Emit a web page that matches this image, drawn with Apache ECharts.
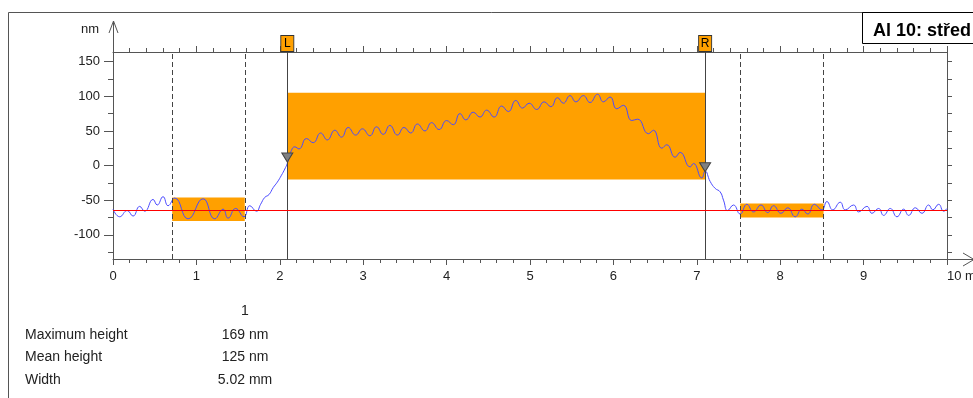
<!DOCTYPE html>
<html>
<head>
<meta charset="utf-8">
<script src="https://cdn.jsdelivr.net/npm/echarts@6.0.0/dist/echarts.min.js"></script>
<style>
  html, body { margin: 0; padding: 0; background: #fff; }
  #chart { width: 973px; height: 398px; }
</style>
</head>
<body>
<div id="chart"></div>
<script>
// profile: position (mm) and height (nm)
var posMm = [0.00,0.08,0.17,0.24,0.32,0.38,0.48,0.53,0.60,0.66,0.74,0.90,1.08,1.22,1.32,1.38,1.47,1.57,1.64,1.72,
  1.77,1.82,1.87,1.92,1.97,2.02,2.06,2.09,2.14,2.18,2.23,2.32,2.40,2.49,2.57,2.66,2.74,2.82,2.91,2.99,
  3.08,3.16,3.24,3.32,3.41,3.49,3.57,3.65,3.74,3.82,3.91,4.00,4.08,4.16,4.23,4.32,4.40,4.48,4.57,4.66,
  4.74,4.83,4.91,4.99,5.08,5.17,5.25,5.33,5.40,5.48,5.55,5.64,5.72,5.81,5.88,5.96,6.04,6.12,6.22,6.29,
  6.42,6.48,6.58,6.64,6.74,6.80,6.92,6.96,7.06,7.10,7.16,7.22,7.28,7.32,7.37,7.44,7.52,7.60,7.68,7.77,
  7.85,7.92,8.01,8.09,8.18,8.26,8.33,8.41,8.50,8.56,8.63,8.72,8.78,8.88,8.94,9.04,9.10,9.18,9.24,9.32,
  9.40,9.48,9.54,9.62,9.70,9.78,9.83,9.90,9.96,10.00];
var heightNm = [-63,-74,-65,-73,-59,-66,-49,-57,-45,-58,-47,-77,-48,-77,-63,-76,-62,-74,-58,-66,
  -56,-46,-42,-32,-24,-14,-5,3,22,27,24,39,33,47,37,51,41,55,44,53,
  43,56,45,58,44,55,47,60,50,62,52,65,59,75,66,77,70,80,70,86,
  78,94,83,90,81,92,85,98,90,101,92,101,91,103,92,99,82,87,65,67,
  46,51,25,30,12,19,-2,3,-18,-8,-23,-33,-38,-50,-65,-57,-70,-56,-67,-57,
  -68,-58,-69,-61,-74,-63,-70,-56,-64,-52,-64,-53,-64,-57,-67,-59,-69,-62,-72,-62,
  -74,-63,-72,-61,-69,-57,-64,-56,-66,-62];

var xRange = [0, 10];
var yRange = [-135, 164];
var yMajor = [-100, -50, 0, 50, 100, 150];
var yMinor = [-125, -75, -25, 25, 75, 125];
var yAllTicks = [-125, -100, -75, -50, -25, 0, 25, 50, 75, 100, 125, 150];

var leftRef = [0.71, 1.58];
var leftBox = [-80, -46];
var rightRef = [7.52, 8.52];
var rightBox = [-75, -55];
var stepEdges = [2.09, 7.10];
var stepBox = [-20, 105];
var baseLevel = -64;
var cursorHeights = [5, -9];
var cursorNames = ['L', 'R'];

var titleText = 'Al 10: střed';
var tableHeader = '1';
var tableLabels = ['Maximum height', 'Mean height', 'Width'];
var tableValues = ['169 nm', '125 nm', '5.02 mm'];

var profile = posMm.map(function (x, i) { return [x, heightNm[i]]; });

var axisColor = '#555';
var orange = '#ffa000';
var font = 'Liberation Sans, Arial, sans-serif';

var dashed = { color: '#444', width: 1, type: [5, 3] };
var solid = { color: '#444', width: 1, type: 'solid' };

var markLines = [
  { xAxis: leftRef[0], lineStyle: dashed },
  { xAxis: leftRef[1], lineStyle: dashed },
  { xAxis: rightRef[0], lineStyle: dashed },
  { xAxis: rightRef[1], lineStyle: dashed },
  { xAxis: stepEdges[0], lineStyle: solid },
  { xAxis: stepEdges[1], lineStyle: solid },
  { yAxis: baseLevel, lineStyle: { color: '#ff0000', width: 1, type: 'solid' } }
];

var markAreas = [
  [{ coord: [leftRef[0], leftBox[1]] }, { coord: [leftRef[1], leftBox[0]] }],
  [{ coord: [stepEdges[0], stepBox[1]] }, { coord: [stepEdges[1], stepBox[0]] }],
  [{ coord: [rightRef[0], rightBox[1]] }, { coord: [rightRef[1], rightBox[0]] }]
];

var markPoints = [];
stepEdges.forEach(function (x, i) {
  markPoints.push({
    coord: [x, cursorHeights[i]],
    symbol: 'triangle', symbolRotate: 180, symbolSize: [11, 9], symbolOffset: [0, -4.5],
    itemStyle: { color: '#808080', borderColor: '#444', borderWidth: 1 },
    label: { show: false }
  });
  markPoints.push({
    coord: [x, yRange[1]],
    symbol: 'rect', symbolSize: [13, 16], symbolOffset: [0, -8.5],
    itemStyle: { color: orange, borderColor: '#333', borderWidth: 1 },
    label: { show: true, position: 'inside', formatter: cursorNames[i], color: '#000', fontSize: 12, fontFamily: font }
  });
});

var chart = echarts.init(document.getElementById('chart'), null, { renderer: 'canvas' });

var gridBox = { left: 113, right: 26, top: 52, bottom: 139, outerBoundsMode: 'none', containLabel: false };

var option = {
  animation: false,
  backgroundColor: '#fff',
  textStyle: { fontFamily: font },
  title: {
    text: titleText,
    left: 868, top: 17,
    textStyle: { fontSize: 18, fontWeight: 'bold', color: '#000', fontFamily: font }
  },
  grid: [Object.assign({}, gridBox), Object.assign({}, gridBox)],
  xAxis: [
    {
      type: 'value', gridIndex: 0, position: 'bottom', min: xRange[0], max: xRange[1], interval: 1,
      axisLine: { show: true, onZero: false, lineStyle: { color: axisColor, width: 1 } },
      axisTick: { show: true, length: 6, lineStyle: { color: axisColor } },
      minorTick: { show: true, splitNumber: 5, length: 4, lineStyle: { color: axisColor } },
      axisLabel: {
        margin: 11, fontSize: 13, color: '#222', alignMaxLabel: 'left',
        formatter: function (v) { return v === xRange[1] ? v + ' mm' : String(v); }
      },
      splitLine: { show: false }
    },
    {
      type: 'value', gridIndex: 0, position: 'top', min: xRange[0], max: xRange[1], interval: 1,
      axisLine: { show: true, onZero: false, lineStyle: { color: axisColor, width: 1 } },
      axisTick: { show: true, length: 6, lineStyle: { color: axisColor } },
      minorTick: { show: true, splitNumber: 5, length: 4, lineStyle: { color: axisColor } },
      axisLabel: { show: false },
      splitLine: { show: false }
    },
    {
      type: 'value', gridIndex: 1, min: xRange[0], max: xRange[1], show: false,
      axisLine: { onZero: false }
    }
  ],
  yAxis: [
    {
      type: 'value', gridIndex: 0, position: 'left', min: yRange[0], max: yRange[1],
      axisLine: { show: true, onZero: false, lineStyle: { color: axisColor, width: 1 } },
      axisTick: { show: true, length: 9, customValues: yMajor, lineStyle: { color: axisColor } },
      axisLabel: { show: true, customValues: yMajor, margin: 13, fontSize: 13, color: '#222' },
      splitLine: { show: false }
    },
    {
      type: 'value', gridIndex: 0, position: 'right', min: yRange[0], max: yRange[1],
      axisLine: { show: true, onZero: false, lineStyle: { color: axisColor, width: 1 } },
      axisTick: { show: true, length: 5, customValues: yAllTicks, lineStyle: { color: axisColor } },
      axisLabel: { show: false },
      splitLine: { show: false }
    },
    {
      type: 'value', gridIndex: 1, position: 'left', min: yRange[0], max: yRange[1],
      axisLine: { show: false, onZero: false },
      axisTick: { show: true, length: 5, customValues: yMinor, lineStyle: { color: axisColor } },
      axisLabel: { show: false },
      splitLine: { show: false }
    }
  ],
  series: [
    {
      type: 'line',
      xAxisIndex: 0, yAxisIndex: 0,
      data: profile,
      smooth: true,
      showSymbol: false,
      clip: false,
      lineStyle: { color: '#4b4bff', width: 1 },
      z: 3,
      markArea: {
        silent: true,
        itemStyle: { color: orange, opacity: 1, borderWidth: 0 },
        data: markAreas
      },
      markLine: {
        silent: true,
        symbol: 'none',
        label: { show: false },
        data: markLines
      },
      markPoint: {
        silent: true,
        data: markPoints
      }
    }
  ],
  graphic: {
    elements: [
      { type: 'rect', shape: { x: 8.5, y: 12.5, width: 1100, height: 600 }, style: { fill: 'none', stroke: '#555', lineWidth: 1 }, z: 0 },
      { type: 'rect', shape: { x: 862.5, y: 12.5, width: 200, height: 31 }, style: { fill: 'none', stroke: '#000', lineWidth: 1 }, z: 1 },
      { type: 'line', shape: { x1: 113.5, y1: 52, x2: 113.5, y2: 21 }, style: { stroke: axisColor, lineWidth: 1 } },
      { type: 'polyline', shape: { points: [[109, 33], [113.5, 21], [118, 33]] }, style: { stroke: axisColor, lineWidth: 1, fill: null } },
      { type: 'text', x: 99, y: 29, style: { text: 'nm', textAlign: 'right', textVerticalAlign: 'middle', font: '13px ' + font, fill: '#222' } },
      { type: 'line', shape: { x1: 947, y1: 259.5, x2: 974, y2: 259.5 }, style: { stroke: axisColor, lineWidth: 1 } },
      { type: 'polyline', shape: { points: [[963, 253], [974, 259.5], [963, 266]] }, style: { stroke: axisColor, lineWidth: 1, fill: null } },
      { type: 'text', x: 245, y: 311, style: { text: tableHeader, textAlign: 'center', textVerticalAlign: 'middle', font: '14px ' + font, fill: '#222' } }
    ].concat(tableLabels.map(function (t, i) {
      return { type: 'text', x: 25, y: 335 + i * 22.6, style: { text: t, textAlign: 'left', textVerticalAlign: 'middle', font: '14px ' + font, fill: '#222' } };
    })).concat(tableValues.map(function (t, i) {
      return { type: 'text', x: 245, y: 335 + i * 22.6, style: { text: t, textAlign: 'center', textVerticalAlign: 'middle', font: '14px ' + font, fill: '#222' } };
    }))
  }
};

chart.setOption(option);
</script>
</body>
</html>
